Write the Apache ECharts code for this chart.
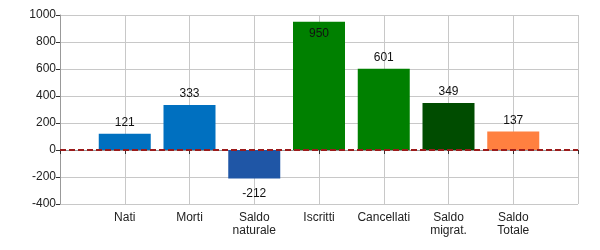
<!DOCTYPE html>
<html>
<head>
<meta charset="utf-8">
<script src="https://cdn.jsdelivr.net/npm/echarts@6/dist/echarts.min.js"></script>
<style>html,body{margin:0;padding:0;background:#fff}#c{width:600px;height:250px}</style>
</head>
<body>
<div id="c"></div>
<script>
var categories = ['', 'Nati', 'Morti', 'Saldo\nnaturale', 'Iscritti', 'Cancellati', 'Saldo\nmigrat.', 'Saldo\nTotale', ''];
var values = [null, 121, 333, -212, 950, 601, 349, 137, null];
var colors = [null, '#0070C0', '#0070C0', '#1F56A6', '#008000', '#008000', '#004C00', '#FF8040', null];
var yTicks = { min: -400, max: 1000, interval: 200 };

var data = values.map(function (v, i) {
  if (v === null) return '-';
  var lbl = v < 0 ? { position: 'bottom', distance: 9 } : (v > 900 ? { position: 'insideTop', distance: 6 } : { position: 'top' });
  return { value: v, itemStyle: { color: colors[i] }, label: lbl };
});

var chart = echarts.init(document.getElementById('c'));
chart.setOption({
  animation: false,
  grid: { left: 60, right: 22, top: 15, bottom: 46 },
  textStyle: { fontFamily: 'Liberation Sans, Arial, sans-serif' },
  xAxis: {
    type: 'category',
    data: categories,
    boundaryGap: false,
    axisLine: { lineStyle: { color: '#999' } },
    axisTick: { show: true, length: 4, lineStyle: { color: '#333' } },
    axisLabel: { color: '#222', fontSize: 12, lineHeight: 13, margin: 7, interval: 0 },
    splitLine: { show: true, lineStyle: { color: '#c8c8c8' } }
  },
  yAxis: {
    type: 'value',
    min: yTicks.min, max: yTicks.max, interval: yTicks.interval,
    axisLine: { show: true, lineStyle: { color: '#999' } },
    axisTick: { show: true, length: 4, lineStyle: { color: '#333' } },
    axisLabel: { color: '#222', fontSize: 12, margin: 4, formatter: function (v) { return String(v); } },
    splitLine: { show: true, lineStyle: { color: '#c8c8c8' } }
  },
  series: [{
    type: 'bar',
    data: data,
    barWidth: 52,
    label: { show: true, color: '#111', fontSize: 12, distance: 5 },
    markLine: {
      silent: true,
      symbol: 'none',
      label: { show: false },
      lineStyle: { color: '#9B1B1B', type: [6, 3], width: 2 },
      data: [{ yAxis: 0 }]
    }
  }]
});
</script>
</body>
</html>
